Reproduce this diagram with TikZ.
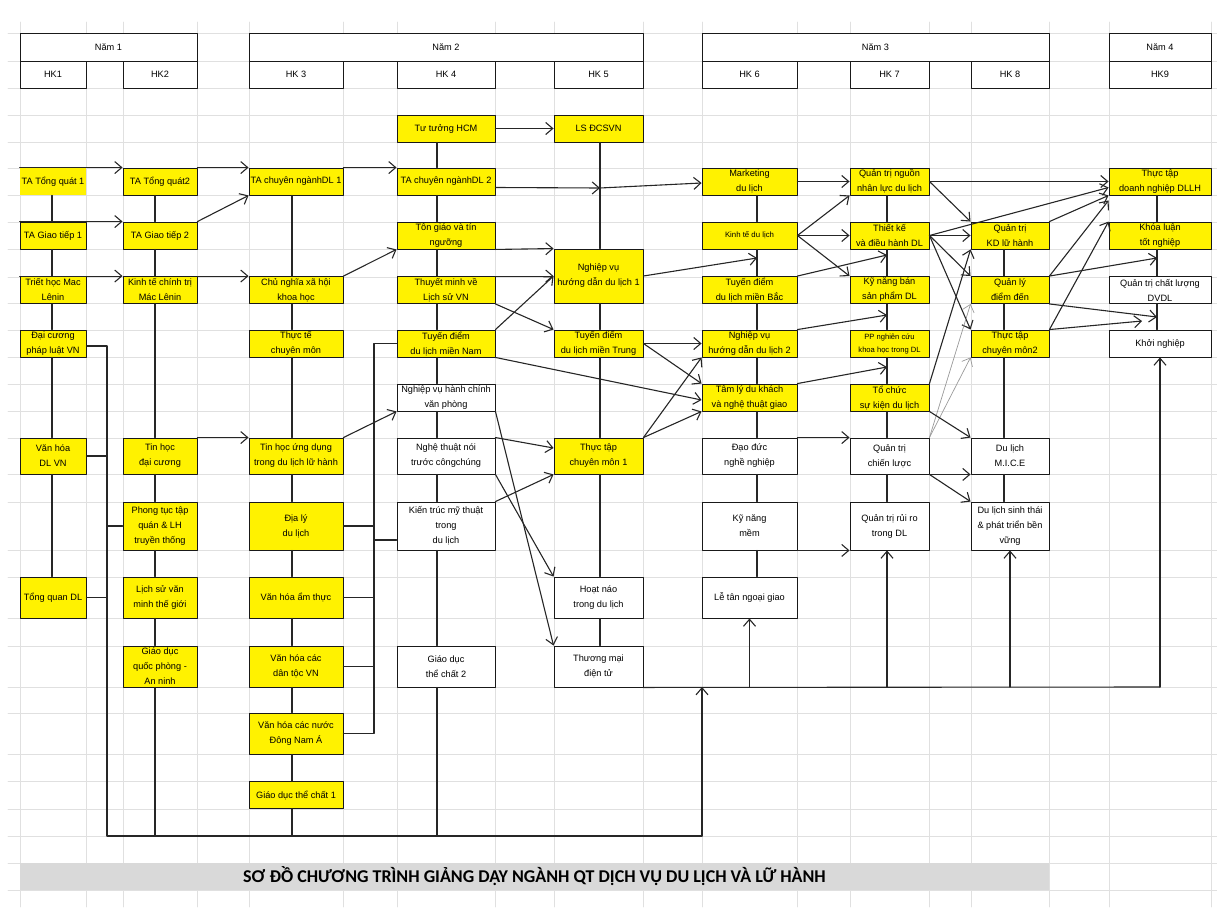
\documentclass[tikz,border=0pt]{standalone}
\usepackage{fontspec}
\setmainfont{Liberation Sans}
\newfontfamily\ttlfont{Carlito}
\usetikzlibrary{arrows.meta,calc,positioning}
\tikzset{
  cell/.style={draw=black!90, line width=0.9pt, align=center, inner sep=0pt, font=\fontsize{9.2}{15}\selectfont},
  yb/.style={cell, fill=yellow},
  wb/.style={cell, fill=white},
  cA/.style={minimum width=66pt}, cB/.style={minimum width=74pt},
  cC/.style={minimum width=94pt}, cD/.style={minimum width=98pt},
  cE/.style={minimum width=89pt}, cF/.style={minimum width=95pt},
  cG/.style={minimum width=79pt}, cH/.style={minimum width=78pt},
  cI/.style={minimum width=102pt},
  rS/.style={minimum height=27pt}, rM/.style={minimum height=36pt},
  rL/.style={minimum height=48pt}, rX/.style={minimum height=41pt},
  ln/.style={draw=black!85, line width=1.1pt},
  arr/.style={ln, -{Straight Barb[length=7pt,width=12pt]}},
  thin/.style={draw=black!40, line width=0.7pt, -{Straight Barb[length=7pt,width=12pt]}},
  gridln/.style={draw=black!12, line width=0.8pt},
  every picture/.style={line cap=round, line join=round}
}

\begin{document}
\begin{tikzpicture}[x=1pt,y=-1pt]
  \useasboundingbox (0,0) rectangle (1217,907);
  % spreadsheet grid
  \foreach \x in {20,86,123,197,249,343,397,495,554,643,702,797,850,929,971,1049,1109,1211}
    \draw[gridln] (\x,22) -- (\x,907);
  \foreach \y in {33,61,88,115,142,168,195,222,249,277,303,330,357,384,411,438,474,502,550,577,618,646,687,713,754,781,809,836,863,890}
    \draw[gridln] (8,\y) -- (1217,\y);

  % headers
  \node[wb, minimum width=177pt, minimum height=28pt] (y1) at (108.5,47) {Năm 1};
  \node[wb, cA, rS] (k1) at (53,74.5) {HK1};
  \node[wb, cB, rS] (k2) at (160,74.5) {HK2};
  \node[wb, minimum width=394pt, minimum height=28pt] (y2) at (446,47) {Năm 2};
  \node[wb, cC, rS] (k3) at (296,74.5) {HK 3};
  \node[wb, cD, rS] (k4) at (446,74.5) {HK 4};
  \node[wb, cE, rS] (k5) at (598.5,74.5) {HK 5};
  \node[wb, minimum width=347pt, minimum height=28pt] (y3) at (875.5,47) {Năm 3};
  \node[wb, cF, rS] (k6) at (749.5,74.5) {HK 6};
  \node[wb, cG, rS] (k7) at (889.5,74.5) {HK 7};
  \node[wb, cH, rS] (k8) at (1010,74.5) {HK 8};
  \node[wb, cI, minimum height=28pt] (y4) at (1160,47) {Năm 4};
  \node[wb, cI, rS] (k9) at (1160,74.5) {HK9};

  % HK1
  \node[yb, draw=none, cA, rS] (a1) at (53,181.5) {TA Tổng quát 1};
  \node[yb, cA, rS] (a2) at (53,235.5) {TA Giao tiếp 1};
  \node[yb, cA, rS] (a3) at (53,290) {Triết học Mac\\Lênin};
  \node[yb, cA, rS] (a4) at (53,343.5) {Đại cương\\pháp luật VN};
  \node[yb, cA, rM] (a5) at (53,456) {Văn hóa\\DL VN};
  \node[yb, cA, rX] (a6) at (53,597.5) {Tổng quan DL};
  % HK2
  \node[yb, cB, rS] (b1) at (160,181.5) {TA Tổng quát2};
  \node[yb, cB, rS] (b2) at (160,235.5) {TA Giao tiếp 2};
  \node[yb, cB, rS] (b3) at (160,290) {Kinh tế chính trị\\Mác Lênin};
  \node[yb, cB, rM] (b4) at (160,456) {Tin học\\đại cương};
  \node[yb, cB, rL] (b5) at (160,526) {Phong tục tập\\quán \& LH\\truyền thống};
  \node[yb, cB, rX] (b6) at (160,597.5) {Lịch sử văn\\minh thế giới};
  \node[yb, cB, rX] (b7) at (160,666.5) {Giáo dục\\quốc phòng -\\An ninh};
  % HK3
  \node[yb, cC, rS] (c1) at (296,181.5) {TA chuyên ngànhDL 1};
  \node[yb, cC, rS] (c2) at (296,290) {Chủ nghĩa xã hội\\khoa học};
  \node[yb, cC, rS] (c3) at (296,343.5) {Thực tế\\chuyên môn};
  \node[yb, cC, rM] (c4) at (296,456) {Tin học ứng dụng\\trong du lịch lữ hành};
  \node[yb, cC, rL] (c5) at (296,526) {Địa lý\\du lịch};
  \node[yb, cC, rX] (c6) at (296,597.5) {Văn hóa ẩm thực};
  \node[yb, cC, rX] (c7) at (296,666.5) {Văn hóa các\\dân tộc VN};
  \node[yb, cC, rX] (c8) at (296,733.5) {Văn hóa các nước\\Đông Nam Á};
  \node[yb, cC, rS] (c9) at (296,795) {Giáo dục thể chất 1};
  % HK4
  \node[yb, cD, rS] (d0) at (446,128.5) {Tư tưởng HCM};
  \node[yb, cD, rS] (d1) at (446,181.5) {TA chuyên ngànhDL 2};
  \node[yb, cD, rS] (d2) at (446,235.5) {Tôn giáo và tín\\ngưỡng};
  \node[yb, cD, rS] (d3) at (446,290) {Thuyết minh về\\Lịch sử VN};
  \node[yb, cD, rS] (d4) at (446,343.5) {Tuyến điểm\\du lịch miền Nam};
  \node[wb, cD, rS] (d5) at (446,397.5) {Nghiệp vụ hành chính\\văn phòng};
  \node[wb, cD, rM] (d6) at (446,456) {Nghệ thuật nói\\trước côngchúng};
  \node[wb, cD, rL] (d7) at (446,526) {Kiến trúc mỹ thuật\\trong\\du lịch};
  \node[wb, cD, rX] (d8) at (446,666.5) {Giáo dục\\thể chất 2};
  % HK5
  \node[yb, cE, rS] (e0) at (598.5,128.5) {LS ĐCSVN};
  \node[yb, cE, minimum height=54pt] (e1) at (598.5,276) {Nghiệp vụ\\hướng dẫn du lịch 1};
  \node[yb, cE, rS] (e2) at (598.5,343.5) {Tuyến điểm\\du lịch miền Trung};
  \node[yb, cE, rM] (e3) at (598.5,456) {Thực tập\\chuyên môn 1};
  \node[wb, cE, rX] (e4) at (598.5,597.5) {Hoạt náo\\trong du lịch};
  \node[wb, cE, rX] (e5) at (598.5,666.5) {Thương mại\\điện tử};
  % HK6
  \node[yb, cF, rS] (f1) at (749.5,181.5) {Marketing\\du lịch};
  \node[yb, cF, rS, font=\fontsize{7.8}{13}\selectfont] (f2) at (749.5,235.5) {Kinh tế du lịch};
  \node[yb, cF, rS] (f3) at (749.5,290) {Tuyến điểm\\du lịch miền Bắc};
  \node[yb, cF, rS] (f4) at (749.5,343.5) {Nghiệp vụ\\hướng dẫn du lịch 2};
  \node[yb, cF, rS] (f5) at (749.5,397.5) {Tâm lý du khách\\và nghệ thuật giao};
  \node[wb, cF, rM] (f6) at (749.5,456) {Đạo đức\\nghề nghiệp};
  \node[wb, cF, rL] (f7) at (749.5,526) {Kỹ năng\\mềm};
  \node[wb, cF, rX] (f8) at (749.5,597.5) {Lễ tân ngoại giao};
  % HK7
  \node[yb, cG, rS] (g1) at (889.5,181.5) {Quản trị nguồn\\nhân lực du lịch};
  \node[yb, cG, rS] (g2) at (889.5,235.5) {Thiết kế\\và điều hành DL};
  \node[yb, cG, rS] (g3) at (889.5,290) {Kỹ năng bán\\sản phẩm DL};
  \node[yb, cG, rS, font=\fontsize{7.6}{13}\selectfont] (g4) at (889.5,343.5) {PP nghiên cứu\\khoa học trong DL};
  \node[yb, cG, rS] (g5) at (889.5,397.5) {Tổ chức\\sự kiện du lịch};
  \node[wb, cG, rM] (g6) at (889.5,456) {Quản trị\\chiến lược};
  \node[wb, cG, rL] (g7) at (889.5,526) {Quản trị rủi ro\\trong DL};
  % HK8
  \node[yb, cH, rS] (h2) at (1010,235.5) {Quản trị\\KD lữ hành};
  \node[yb, cH, rS] (h3) at (1010,290) {Quản lý\\điểm đến};
  \node[yb, cH, rS] (h4) at (1010,343.5) {Thực tập\\chuyên môn2};
  \node[wb, cH, rM] (h5) at (1010,456) {Du lịch\\M.I.C.E};
  \node[wb, cH, rL] (h6) at (1010,526) {Du lịch sinh thái\\\& phát triển bền\\vững};
  % HK9
  \node[yb, cI, rS] (i1) at (1160,181.5) {Thực tập\\doanh nghiệp DLLH};
  \node[yb, cI, rS] (i2) at (1160,235.5) {Khóa luận\\tốt nghiệp};
  \node[wb, cI, rS] (i3) at (1160,290) {Quản trị chất lượng\\DVDL};
  \node[wb, cI, rS] (i4) at (1160,343.5) {Khởi nghiệp};

  \node[fill=black!15, minimum width=1029pt, minimum height=27pt, inner sep=0pt,
        font=\ttlfont\bfseries\fontsize{18}{20}\selectfont] (ttl) at (534.5,876.5)
        {SƠ ĐỒ CHƯƠNG TRÌNH GIẢNG DẠY NGÀNH QT DỊCH VỤ DU LỊCH VÀ LỮ HÀNH};

  % column spines and junctions
  \coordinate (sA) at (52,0);   \coordinate (sB) at (155,0);
  \coordinate (sC) at (292,0);  \coordinate (sD) at (437,0);
  \coordinate (sE) at (600,0);  \coordinate (sF) at (757,0);
  \coordinate (sG) at (887,0);  \coordinate (sH) at (1004,0);
  \coordinate (sI) at (1157,0);
  \coordinate (j1) at (600,188);  \coordinate (j2) at (757,258);
  \coordinate (j3) at (887,255);  \coordinate (j4) at (887,315);
  \coordinate (j5) at (887,367);  \coordinate (j6) at (1157,258);
  \coordinate (j7) at (1157,317); \coordinate (j8) at (1142,321);
  \coordinate (bA) at (107,346);  \coordinate (bD) at (374,0);
  \coordinate (p1) at (702,836);  \coordinate (q0) at (702,687);
  \coordinate (q1) at (1160,687);

  % vertical links inside each semester
  \draw[ln] (a1.south -| sA) -- (a2.north -| sA) (a2.south -| sA) -- (a3.north -| sA)
    (a3.south -| sA) -- (a4.north -| sA) (a4.south -| sA) -- (a5.north -| sA)
    (a5.south -| sA) -- (a6.north -| sA);
  \draw[ln] (b1.south -| sB) -- (b2.north -| sB) (b2.south -| sB) -- (b3.north -| sB)
    (b3.south -| sB) -- (b4.north -| sB) (b4.south -| sB) -- (b5.north -| sB)
    (b5.south -| sB) -- (b6.north -| sB) (b6.south -| sB) -- (b7.north -| sB)
    (b7.south -| sB) -- (sB |- p1);
  \draw[ln] (c1.south -| sC) -- (c2.north -| sC) (c2.south -| sC) -- (c3.north -| sC)
    (c3.south -| sC) -- (c4.north -| sC) (c4.south -| sC) -- (c5.north -| sC)
    (c5.south -| sC) -- (c6.north -| sC) (c6.south -| sC) -- (c7.north -| sC)
    (c7.south -| sC) -- (c8.north -| sC) (c8.south -| sC) -- (c9.north -| sC)
    (c9.south -| sC) -- (sC |- p1);
  \draw[ln] (d0.south -| sD) -- (d1.north -| sD) (d1.south -| sD) -- (d2.north -| sD)
    (d2.south -| sD) -- (d3.north -| sD) (d3.south -| sD) -- (d4.north -| sD)
    (d4.south -| sD) -- (d5.north -| sD) (d5.south -| sD) -- (d6.north -| sD)
    (d6.south -| sD) -- (d7.north -| sD) (d7.south -| sD) -- (d8.north -| sD)
    (d8.south -| sD) -- (sD |- p1);
  \draw[ln] (e0.south -| sE) -- (e1.north -| sE) (e1.south -| sE) -- (e2.north -| sE)
    (e2.south -| sE) -- (e3.north -| sE) (e3.south -| sE) -- (e4.north -| sE)
    (e4.south -| sE) -- (e5.north -| sE);
  \draw[ln] (f1.south -| sF) -- (f2.north -| sF) (f2.south -| sF) -- (f3.north -| sF)
    (f3.south -| sF) -- (f4.north -| sF) (f4.south -| sF) -- (f5.north -| sF)
    (f5.south -| sF) -- (f6.north -| sF) (f6.south -| sF) -- (f7.north -| sF)
    (f7.south -| sF) -- (f8.north -| sF);
  \draw[ln] (g1.south -| sG) -- (g2.north -| sG) (g2.south -| sG) -- (g3.north -| sG)
    (g3.south -| sG) -- (g4.north -| sG) (g4.south -| sG) -- (g5.north -| sG)
    (g5.south -| sG) -- (g6.north -| sG) (g6.south -| sG) -- (g7.north -| sG);
  \draw[ln] (h2.south -| sH) -- (h3.north -| sH) (h3.south -| sH) -- (h4.north -| sH)
    (h4.south -| sH) -- (h5.north -| sH) (h5.south -| sH) -- (h6.north -| sH);
  \draw[ln] (i1.south -| sI) -- (i2.north -| sI) (i2.south -| sI) -- (i3.north -| sI)
    (i3.south -| sI) -- (i4.north -| sI);

  % brackets and buses
  \draw[ln] (a4.east |- bA) -- (bA) -- (bA |- p1) -- (p1);
  \draw[ln] (a5.east) -- (a5.east -| bA) (a6.east) -- (a6.east -| bA)
    (b5.west) -- (b5.west -| bA);
  \draw[ln] (d4.west) -| (bD |- c8.east) -- (c8.east);
  \draw[ln] (c5.east) -- (c5.east -| bD) (c6.east) -- (c6.east -| bD)
    (c7.east) -- (c7.east -| bD) ([yshift=-14pt]d7.west) -- ([yshift=-14pt]d7.west -| bD);
  \draw[arr] (p1) -- (q0);
  \draw[ln] (e5.south east) -- (q1);
  \draw[arr] (f8.south |- q0) -- (f8.south);
  \draw[arr] (sG |- q0) -- (g7.south -| sG);
  \draw[arr] (h6.south |- q0) -- (h6.south);
  \draw[arr] (q1) -- (i4.south);

  % year 1
  \draw[arr] (a1.north west) -- (b1.north west);
  \draw[arr] (b1.north east) -- (c1.north west);
  \draw[arr] (a2.north west) -- (b2.north west);
  \draw[arr] (a3.north west) -- (b3.north west);
  \draw[arr] (b3.north east) -- (c2.north west);
  \draw[arr] (b2.north east) -- (c1.south west);
  \draw[arr] (b4.north east) -- (c4.north west);
  % year 2
  \draw[arr] (c1.north east) -- (d1.north west);
  \draw[arr] (c2.north east) -- (d2.south west);
  \draw[arr] (c4.north east) -- (d5.south west);
  \draw[arr] (d0.east) -- (e0.west);
  \draw[arr] ([yshift=-6pt]d1.east) -- (j1);
  \draw[arr] (j1) -- ([yshift=-1.5pt]f1.west);
  \draw[arr] (d2.south east) -- (e1.north west);
  \draw[arr] (d3.north east) -- (e1.west |- d3.north);
  \draw[arr] (d3.south east) -- (e2.north west);
  \draw[arr] (d4.north east) -- (e1.west |- d3.north);
  \draw[arr] (d4.south east) -- ([yshift=-2.5pt]f5.west);
  \draw[arr] (d5.south east) -- (e5.north west);
  \draw[arr] (d6.north east) -- ([yshift=8pt]e3.west);
  \draw[arr] (d6.south east) -- (e4.north west);
  \draw[arr] (d7.north east) -- (e3.south west);
  \draw[arr] (e1.east) -- (j2);
  \draw[arr] (e2.east) -- (f4.west);
  \draw[arr] (e2.east) -- (f5.north west);
  \draw[arr] (e3.north east) -- (f4.south west);
  \draw[arr] (e3.north east) -- (f5.south west);
  % year 3
  \draw[arr] (f1.east) -- (g1.west);
  \draw[arr] (f2.east) -- (g1.south west);
  \draw[arr] (f2.east) -- (g2.west);
  \draw[arr] (f2.east) -- (g3.north west);
  \draw[arr] (f3.north east) -- (j3);
  \draw[arr] (f4.north east) -- (j4);
  \draw[arr] (f5.north east) -- (j5);
  \draw[arr] (f6.north east) -- (g6.north west);
  \draw[arr] (f7.south east) -- (g7.south west);
  \draw[arr] (g1.east) -- (i1.west);
  \draw[arr] (g1.east) -- (h2.north west);
  \draw[arr] (g2.east) -- ([yshift=-6pt]i1.west);
  \draw[arr] (g2.east) -- (h2.west);
  \draw[arr] (g2.east) -- (h3.north west);
  \draw[arr] (g2.east) -- (h4.north west);
  \draw[arr] (g5.north east) -- (h2.south west);
  \draw[thin] (g6.north east) -- (h4.south west);
  \draw[thin] (g6.north east) -- (h3.south west);
  \draw[arr] (g5.south east) -- (h5.north west);
  \draw[arr] (g6.south east) -- (h5.south west);
  \draw[arr] (g6.south east) -- (h6.north west);
  % year 4
  \draw[arr] (h2.north east) -- (i1.south west);
  \draw[arr] (h3.north east) -- ([yshift=-5pt]i1.south west);
  \draw[arr] (h4.north east) -- (i2.north west);
  \draw[arr] (h3.north east) -- (j6);
  \draw[arr] (h3.south east) -- (j7);
  \draw[arr] (h4.north east) -- (j8);
\end{tikzpicture}
\end{document}
